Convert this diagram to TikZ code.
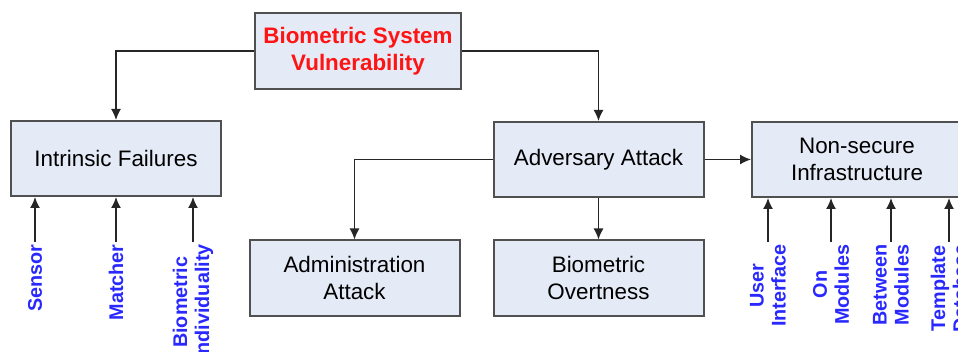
\documentclass[tikz,border=0pt]{standalone}
\usepackage{fontspec}
\setmainfont{Liberation Sans}
\usetikzlibrary{arrows.meta}
\definecolor{boxfill}{RGB}{228,234,246}
\definecolor{boxline}{RGB}{80,80,80}
\definecolor{srcblue}{RGB}{40,40,255}
\definecolor{topred}{RGB}{255,20,20}

\begin{document}
\begin{tikzpicture}[x=0.5pt,y=-0.5pt,
  box/.style={draw=boxline,line width=1pt,fill=boxfill,minimum width=105pt,
    minimum height=37.5pt,align=center,inner sep=2pt,
    font=\fontsize{11.2}{13.5}\selectfont},
  src/.style={rotate=90,anchor=east,align=center,inner sep=1pt,text=srcblue,
    font=\fontsize{9.9}{11}\selectfont\bfseries},
  link/.style={->,>={Latex[length=5.5pt,width=5pt]},draw=black!85,line width=0.7pt}]

  %% page frame, the right box runs off the page
  \path[use as bounding box,clip] (0,0) rectangle (958,352);

  %% boxes
  \node[box,minimum width=103pt,minimum height=38pt,text=topred,font=\fontsize{11.2}{13.5}\selectfont\bfseries]
    (vuln) at (358,51) {Biometric System\\Vulnerability};
  \node[box] (intr) at (116,158.5) {Intrinsic Failures};
  \node[box] (adv) at (598.5,159.5) {Adversary Attack};
  \node[box] (infra) at (857,159.5) {Non-secure\\Infrastructure};
  \node[box] (admin) at (354.5,278) {Administration\\Attack};
  \node[box] (overt) at (598.5,278) {Biometric\\Overtness};

  %% tree links
  \draw[link] (vuln.west) -| (intr.north);
  \draw[link] (vuln.east) -| (adv.north);
  \draw[link] (adv.west) -| (admin.north);
  \draw[link] (adv.south) -- (overt.north);
  \draw[link] (adv.east) -- (infra.west);

  %% intrinsic failure sources
  \node[src] (sensor) at (35,242) {Sensor};
  \node[src] (matcher) at (116,242) {Matcher};
  \node[src] (indiv) at (193,242) {Biometric\\Individuality};
  \foreach \s in {sensor,matcher,indiv}
    \draw[link] (\s.east) -- (\s.east |- intr.south);

  %% infrastructure sources
  \node[src] (ui) at (768,242) {User\\Interface};
  \node[src] (onmod) at (831,242) {On\\Modules};
  \node[src] (btwmod) at (891,242) {Between\\Modules};
  \node[src] (tpldb) at (949,242) {Template\\Database};
  \foreach \s in {ui,onmod,btwmod,tpldb}
    \draw[link] (\s.east) -- (\s.east |- infra.south);

\end{tikzpicture}
\end{document}
